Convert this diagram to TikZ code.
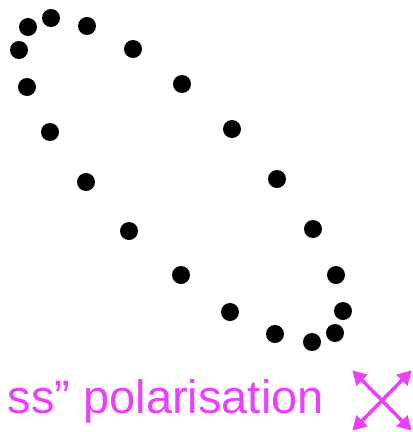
\documentclass[tikz,border=0pt]{standalone}
\usepackage{fontspec}
\setmainfont{Liberation Sans}
\usetikzlibrary{arrows.meta}
\definecolor{mag}{RGB}{234,64,251}
\tikzset{
  dot/.style={circle,fill=black,inner sep=0pt,minimum size=18pt},
  polarrow/.style={draw=mag,line width=3.5pt,{Triangle[length=14pt,width=15pt]}-{Triangle[length=14pt,width=15pt]},shorten <=-1pt,shorten >=-1pt},
  label/.style={text=mag,font=\fontsize{47}{56}\selectfont,inner sep=0pt}
}
\begin{document}
\begin{tikzpicture}[x=1pt,y=-1pt]
\useasboundingbox (0,0) rectangle (413,432);
\node[dot] (d1) at (51,18) {};
\node[dot] (d2) at (28,27) {};
\node[dot] (d3) at (87,26) {};
\node[dot] (d4) at (19,50) {};
\node[dot] (d5) at (133,49) {};
\node[dot] (d6) at (27,87) {};
\node[dot] (d7) at (182,84) {};
\node[dot] (d8) at (50,132) {};
\node[dot] (d9) at (232,129) {};
\node[dot] (d10) at (86,182) {};
\node[dot] (d11) at (277,179) {};
\node[dot] (d12) at (129,231) {};
\node[dot] (d13) at (313,229) {};
\node[dot] (d14) at (181,275) {};
\node[dot] (d15) at (336,275) {};
\node[dot] (d16) at (230,312) {};
\node[dot] (d17) at (343,311) {};
\node[dot] (d18) at (275,334) {};
\node[dot] (d19) at (335,333) {};
\node[dot] (d20) at (312,342) {};
\node[label,anchor=base east] (txt) at (324,413) {ss” polarisation};
\coordinate (ul) at (353,371);
\coordinate (ur) at (411,371);
\coordinate (ll) at (353,430);
\coordinate (lr) at (411,430);
\draw[polarrow] (ul) -- (lr);
\draw[polarrow] (ur) -- (ll);
\end{tikzpicture}
\end{document}
